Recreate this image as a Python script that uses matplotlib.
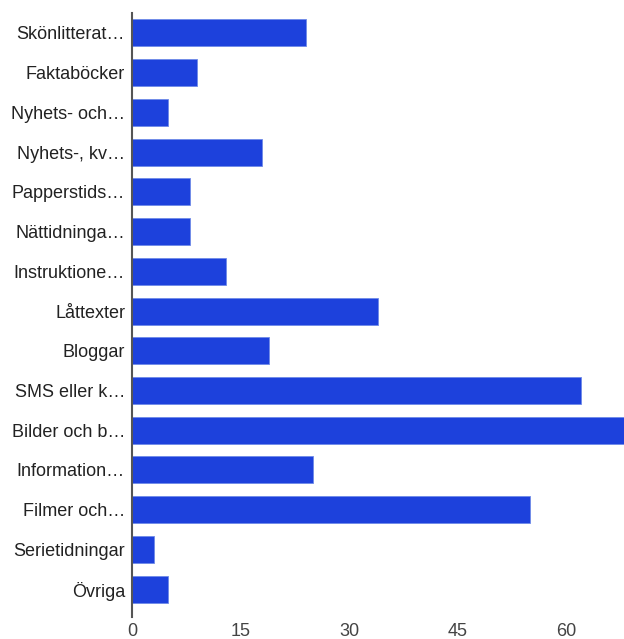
import matplotlib
matplotlib.use("Agg")
import matplotlib.pyplot as plt

categories = ["Skönlitterat…", "Faktaböcker", "Nyhets- och…", "Nyhets-, kv…",
              "Papperstids…", "Nättidninga…", "Instruktione…", "Låttexter",
              "Bloggar", "SMS eller k…", "Bilder och b…", "Information…",
              "Filmer och…", "Serietidningar", "Övriga"]
values = [24, 9, 5, 18, 8, 8, 13, 34, 19, 62, 68, 25, 55, 3, 5]
xticks = [0, 15, 30, 45, 60]

plt.rcParams['font.family'] = ['Liberation Sans', 'DejaVu Sans']

fig = plt.figure(figsize=(6.24, 6.39), dpi=100)
ax = fig.add_axes([132/624, 1-617/639, 1-132/624, (617-13)/639])

y = list(range(len(categories)))
ax.barh(y, values, height=0.68, color='#1d41dc', edgecolor='#6f8ae8', linewidth=0.6)
ax.set_ylim(len(categories) - 0.3, -0.5)
ax.set_xlim(0, 68)
ax.set_yticks(y)
ax.set_yticklabels(categories, fontsize=13, color='#222222')
ax.set_xticks(xticks)
ax.set_xticklabels([str(t) for t in xticks], fontsize=13, color='#444444')
ax.tick_params(axis='both', length=0)
ax.tick_params(axis='y', pad=5)
ax.tick_params(axis='x', pad=4)
for s in ['top', 'right', 'bottom']:
    ax.spines[s].set_visible(False)
ax.spines['left'].set_color('#555555')
ax.spines['left'].set_linewidth(1.5)

fig.savefig("out.png", dpi=100)
